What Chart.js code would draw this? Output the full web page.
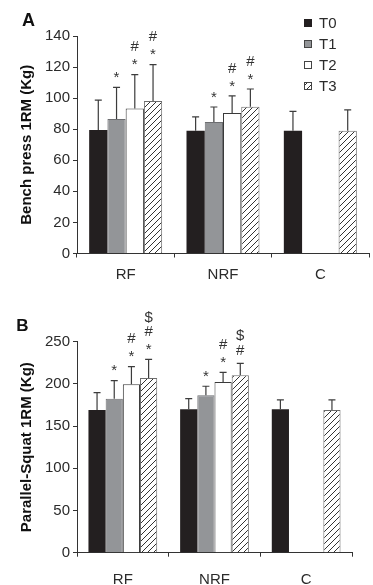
<!DOCTYPE html>
<html>
<head>
<meta charset="utf-8">
<script src="https://cdn.jsdelivr.net/npm/chart.js@4.4.0/dist/chart.umd.min.js"></script>
<style>
  html, body { margin: 0; padding: 0; background: #fff; }
  #wrap { position: relative; width: 373px; height: 585px; }
  #chartA { position: absolute; left: 0; top: 0; }
  #chartB { position: absolute; left: 0; top: 292px; }
</style>
</head>
<body>
<div id="wrap">
  <canvas id="chartA" width="373" height="292"></canvas>
  <canvas id="chartB" width="373" height="293"></canvas>
</div>
<script>
// ===== data =====
const groups = ['RF', 'NRF', 'C'];
const times = ['T0', 'T1', 'T2', 'T3'];

// Panel A - bench press 1RM (kg), mean and SD
const benchT0 = [79.5, 79.0, 79.0];
const benchT1 = [86.5, 84.7, null];
const benchT2 = [93.4, 90.4, null];
const benchT3 = [98.2, 94.4, 79.0];
const benchSdT0 = [19.2, 9.0, 12.5];
const benchSdT1 = [20.4, 9.6, null];
const benchSdT2 = [21.7, 11.1, null];
const benchSdT3 = [23.4, 11.5, 13.5];
const benchMarksT1 = [['*'], ['*'], []];
const benchMarksT2 = [['*', '#'], ['*', '#'], []];
const benchMarksT3 = [['*', '#'], ['*', '#'], []];
const benchTicks = [0, 20, 40, 60, 80, 100, 120, 140];

// Panel B - parallel squat 1RM (kg), mean and SD
const squatT0 = [169.0, 170.0, 170.0];
const squatT1 = [182.5, 186.5, null];
const squatT2 = [199.5, 202.3, null];
const squatT3 = [207.0, 210.2, 169.0];
const squatSdT0 = [20.6, 12.5, 11.0];
const squatSdT1 = [21.3, 10.7, null];
const squatSdT2 = [20.9, 11.4, null];
const squatSdT3 = [22.0, 14.2, 12.0];
const squatMarksT1 = [['*'], ['*'], []];
const squatMarksT2 = [['*', '#'], ['*', '#'], []];
const squatMarksT3 = [['*', '#', '$'], ['#', '$'], []];
const squatTicks = [0, 50, 100, 150, 200, 250];

// ===== styles =====
const FONT = "'Liberation Sans', Arial, Helvetica, sans-serif";
const INK = '#2b2b2b';
Chart.defaults.font.family = FONT;
Chart.defaults.color = INK;

function hatchPattern() {
  const c = document.createElement('canvas');
  c.width = 6; c.height = 6;
  const g = c.getContext('2d');
  g.fillStyle = '#fff';
  g.fillRect(0, 0, 6, 6);
  g.strokeStyle = '#333';
  g.lineWidth = 1;
  g.beginPath();
  g.moveTo(-1, 7); g.lineTo(7, -1);
  g.moveTo(-1, 1); g.lineTo(1, -1);
  g.moveTo(5, 7); g.lineTo(7, 5);
  g.stroke();
  return g.createPattern(c, 'repeat');
}
const hatch = hatchPattern();

const fills = ['#231f20', '#939598', '#ffffff', hatch];
const borders = ['#231f20', '#6d6e71', '#3a3a3a', '#6d6d6d'];

function makeDatasets(values, sds, marks) {
  return times.map((t, i) => ({
    label: t,
    data: values[i],
    sd: sds[i],
    marks: marks[i],
    backgroundColor: fills[i],
    borderColor: borders[i],
    borderWidth: i === 0 ? 0 : 1,
    barPercentage: 1,
    categoryPercentage: 0.75,
  }));
}

// error bars (upper whisker only) + significance marks
const errorBars = {
  id: 'errorBars',
  afterDatasetsDraw(chart) {
    const ctx = chart.ctx;
    const y = chart.scales.y;
    chart.data.datasets.forEach((ds, i) => {
      const meta = chart.getDatasetMeta(i);
      meta.data.forEach((bar, j) => {
        const v = ds.data[j];
        if (v == null || ds.sd[j] == null) return;
        const top = y.getPixelForValue(v + ds.sd[j]);
        ctx.save();
        ctx.strokeStyle = '#3c3c3c';
        ctx.lineWidth = 1.2;
        ctx.beginPath();
        ctx.moveTo(bar.x, bar.y);
        ctx.lineTo(bar.x, top);
        ctx.moveTo(bar.x - 3.5, top);
        ctx.lineTo(bar.x + 3.5, top);
        ctx.stroke();
        // marks stacked above the whisker
        const list = (ds.marks && ds.marks[j]) || [];
        ctx.fillStyle = '#333';
        ctx.font = '15px ' + FONT;
        ctx.textAlign = 'center';
        ctx.textBaseline = 'alphabetic';
        const lift = { '*': 0.58, '#': 0.35, '$': 0.36 };
        list.forEach((m, k) => {
          const cy = top - 14 - k * 14.5;
          ctx.fillText(m, bar.x, cy + lift[m] * 15);
        });
        ctx.restore();
      });
    });
  }
};

// panel letter and legend
const panelDecor = {
  id: 'panelDecor',
  afterDraw(chart, args, opts) {
    const ctx = chart.ctx;
    ctx.save();
    ctx.fillStyle = '#111';
    ctx.font = 'bold ' + opts.letterSize + 'px ' + FONT;
    ctx.textAlign = 'center';
    ctx.textBaseline = 'middle';
    ctx.fillText(opts.letter, opts.letterX, opts.letterY);
    if (opts.legend) {
      chart.data.datasets.forEach((ds, i) => {
        const cy = 23 + i * 21;
        ctx.fillStyle = ds.backgroundColor;
        ctx.fillRect(304.5, cy - 3.5, 7, 7);
        ctx.strokeStyle = i === 0 ? ds.backgroundColor : '#444';
        ctx.lineWidth = 1;
        ctx.strokeRect(304.5, cy - 3.5, 7, 7);
        ctx.fillStyle = INK;
        ctx.font = '15px ' + FONT;
        ctx.textAlign = 'left';
        ctx.textBaseline = 'middle';
        ctx.fillText(ds.label, 319, cy + 1);
      });
    }
    ctx.restore();
  }
};

function makeChart(id, datasets, cfg) {
  return new Chart(document.getElementById(id), {
    type: 'bar',
    data: { labels: groups, datasets },
    options: {
      responsive: false,
      animation: false,
      layout: { padding: { top: cfg.top, right: cfg.right, left: 0, bottom: 0 } },
      plugins: {
        legend: { display: false },
        tooltip: { enabled: false },
        panelDecor: cfg.decor,
      },
      scales: {
        x: {
          grid: { display: true, drawOnChartArea: false, drawTicks: true, tickLength: 4, tickColor: '#333', offset: true },
          border: { color: '#333', width: 1 },
          ticks: { color: INK, font: { size: 15 }, padding: cfg.xPad },
          afterFit: s => { s.height = cfg.xHeight; },
        },
        y: {
          min: 0,
          max: cfg.max,
          afterBuildTicks: s => { s.ticks = cfg.ticks.map(v => ({ value: v })); },
          grid: { display: true, drawOnChartArea: false, drawTicks: true, tickLength: 4, tickColor: '#333' },
          border: { color: '#333', width: 1 },
          ticks: { color: INK, font: { size: 15 }, padding: 3 },
          title: {
            display: true,
            text: cfg.title,
            color: '#111',
            font: { size: 15, weight: 'bold' },
            padding: { top: 18, bottom: 0 },
          },
          afterFit: s => { s.width = 77; },
        },
      },
    },
    plugins: [errorBars, panelDecor],
  });
}

makeChart('chartA',
  makeDatasets([benchT0, benchT1, benchT2, benchT3],
               [benchSdT0, benchSdT1, benchSdT2, benchSdT3],
               [null, benchMarksT1, benchMarksT2, benchMarksT3]),
  { top: 36, right: 4, xHeight: 38.5, xPad: 8.5, max: 140, ticks: benchTicks,
    title: 'Bench press 1RM (Kg)',
    decor: { letter: 'A', letterX: 28.5, letterY: 21.5, letterSize: 18, legend: true } });

makeChart('chartB',
  makeDatasets([squatT0, squatT1, squatT2, squatT3],
               [squatSdT0, squatSdT1, squatSdT2, squatSdT3],
               [null, squatMarksT1, squatMarksT2, squatMarksT3]),
  { top: 49.7, right: 21, xHeight: 32.3, xPad: 14.3, max: 250, ticks: squatTicks,
    title: 'Parallel-Squat 1RM (Kg)',
    decor: { letter: 'B', letterX: 22.5, letterY: 34, letterSize: 17, legend: false } });
</script>
</body>
</html>
